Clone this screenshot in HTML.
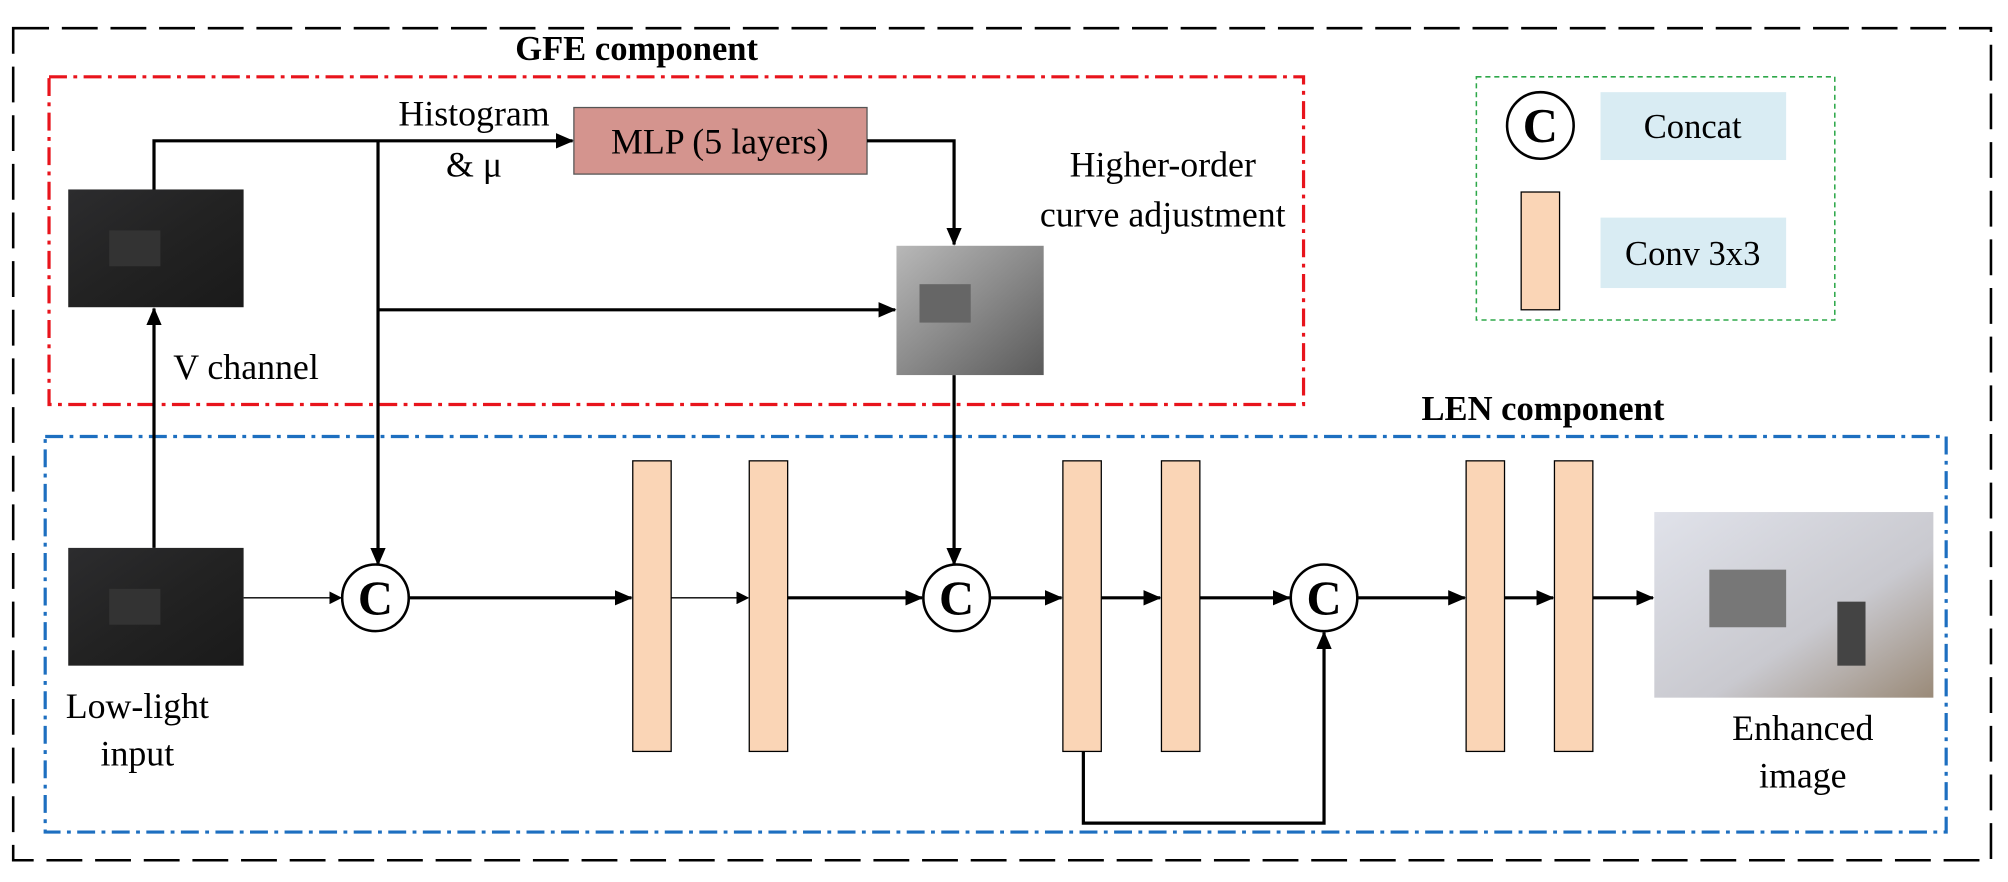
<!DOCTYPE html>
<html><head><meta charset="utf-8"><style>
html,body{margin:0;padding:0;background:#fff;width:2008px;height:882px;overflow:hidden}
svg{display:block}
text{font-family:"Liberation Serif",serif;fill:#000}
</style></head><body>
<svg width="2008" height="882" viewBox="0 0 1568 689" xmlns="http://www.w3.org/2000/svg">
<defs>
<marker id="ah" markerWidth="10" markerHeight="10" refX="9" refY="5" orient="auto" markerUnits="userSpaceOnUse">
<path d="M0,0 L10,5 L0,10 z" fill="#000"/></marker>
<marker id="ahl" markerWidth="14" markerHeight="14" refX="13" refY="7" orient="auto" markerUnits="userSpaceOnUse">
<path d="M0,1 L14,7 L0,13 z" fill="#000"/></marker>
<linearGradient id="dark" x1="0" y1="0" x2="1" y2="1"><stop offset="0" stop-color="#2c2c2e"/><stop offset="0.5" stop-color="#222"/><stop offset="1" stop-color="#1a1a1a"/></linearGradient>
<linearGradient id="grey" x1="0" y1="0" x2="1" y2="1"><stop offset="0" stop-color="#b8b8b8"/><stop offset="0.5" stop-color="#8a8a8a"/><stop offset="1" stop-color="#5a5a5a"/></linearGradient>
<linearGradient id="light" x1="0" y1="0" x2="1" y2="1"><stop offset="0" stop-color="#e0e2ea"/><stop offset="0.6" stop-color="#c9c9cf"/><stop offset="1" stop-color="#9a8a78"/></linearGradient>
</defs>
<rect x="10" y="22" width="1545" height="650" fill="none" stroke="#000" stroke-width="2" stroke-dasharray="28,10"/>
<rect x="38" y="60" width="980" height="256" fill="none" stroke="#e8141c" stroke-width="2.5" stroke-dasharray="14,5,3,5"/>
<rect x="35" y="341" width="1485" height="309" fill="none" stroke="#1d6fc0" stroke-width="2.5" stroke-dasharray="14,5,3,5"/>
<rect x="1153" y="60" width="280" height="190" fill="none" stroke="#2ea84a" stroke-width="1.2" stroke-dasharray="4,3"/>
<text x="497" y="47" font-size="27" font-weight="bold" text-anchor="middle">GFE component</text>
<text x="1205" y="328" font-size="27" font-weight="bold" text-anchor="middle">LEN component</text>
<!-- legend -->
<circle cx="1203" cy="98" r="26" fill="#fff" stroke="#000" stroke-width="2"/>
<text x="1203" y="111" font-size="38" font-weight="bold" text-anchor="middle">C</text>
<rect x="1250" y="72" width="145" height="53" fill="#d9ecf3"/>
<text x="1322" y="108" font-size="27" text-anchor="middle">Concat</text>
<rect x="1188" y="150" width="30" height="92" fill="#fad5b6" stroke="#000" stroke-width="1"/>
<rect x="1250" y="170" width="145" height="55" fill="#d9ecf3"/>
<text x="1322" y="207" font-size="27" text-anchor="middle">Conv 3x3</text>
<!-- images -->
<rect x="53" y="148" width="137" height="92" fill="url(#dark)"/>
<rect x="85" y="180" width="40" height="28" fill="#333"/>
<rect x="53" y="428" width="137" height="92" fill="url(#dark)"/>
<rect x="85" y="460" width="40" height="28" fill="#333"/>
<rect x="700" y="192" width="115" height="101" fill="url(#grey)"/>
<rect x="718" y="222" width="40" height="30" fill="#666"/>
<rect x="1292" y="400" width="218" height="145" fill="url(#light)"/>
<rect x="1335" y="445" width="60" height="45" fill="#777"/>
<rect x="1435" y="470" width="22" height="50" fill="#444"/>
<text x="107" y="561" font-size="28" text-anchor="middle">Low-light</text>
<text x="107" y="598" font-size="28" text-anchor="middle">input</text>
<text x="1408" y="578" font-size="28" text-anchor="middle">Enhanced</text>
<text x="1408" y="615" font-size="28" text-anchor="middle">image</text>
<text x="135" y="296" font-size="28">V channel</text>
<text x="370" y="98" font-size="28" text-anchor="middle">Histogram</text>
<text x="370" y="138" font-size="28" text-anchor="middle">&amp;  μ</text>
<text x="908" y="138" font-size="28" text-anchor="middle">Higher-order</text>
<text x="908" y="177" font-size="28" text-anchor="middle">curve adjustment</text>
<rect x="448" y="84" width="229" height="52" fill="#d4948e" stroke="#555" stroke-width="1"/>
<text x="562" y="120" font-size="28" text-anchor="middle">MLP (5 layers)</text>
<!-- GFE connectors -->
<g stroke="#000" stroke-width="2.5" fill="none">
<line x1="120" y1="428" x2="120" y2="241" marker-end="url(#ahl)"/>
<polyline points="120,148 120,110 447,110" marker-end="url(#ahl)"/>
<line x1="295" y1="110" x2="295" y2="441" marker-end="url(#ahl)"/>
<line x1="295" y1="242" x2="699" y2="242" marker-end="url(#ahl)"/>
<polyline points="677,110 745,110 745,191" marker-end="url(#ahl)"/>
<line x1="745" y1="293" x2="745" y2="441" marker-end="url(#ahl)"/>
</g>
<!-- bars -->
<g fill="#fad5b6" stroke="#000" stroke-width="1">
<rect x="494" y="360" width="30" height="227"/>
<rect x="585" y="360" width="30" height="227"/>
<rect x="830" y="360" width="30" height="227"/>
<rect x="907" y="360" width="30" height="227"/>
<rect x="1145" y="360" width="30" height="227"/>
<rect x="1214" y="360" width="30" height="227"/>
</g>
<!-- LEN connectors -->
<g stroke="#000" fill="none">
<line x1="190" y1="467" x2="266" y2="467" stroke-width="1" marker-end="url(#ah)"/>
<line x1="319" y1="467" x2="493" y2="467" stroke-width="2.5" marker-end="url(#ahl)"/>
<line x1="524" y1="467" x2="584" y2="467" stroke-width="1" marker-end="url(#ah)"/>
<line x1="615" y1="467" x2="720" y2="467" stroke-width="2.5" marker-end="url(#ahl)"/>
<line x1="773" y1="467" x2="829" y2="467" stroke-width="2.5" marker-end="url(#ahl)"/>
<line x1="860" y1="467" x2="906" y2="467" stroke-width="2.5" marker-end="url(#ahl)"/>
<line x1="937" y1="467" x2="1007" y2="467" stroke-width="2.5" marker-end="url(#ahl)"/>
<line x1="1060" y1="467" x2="1144" y2="467" stroke-width="2.5" marker-end="url(#ahl)"/>
<line x1="1175" y1="467" x2="1213" y2="467" stroke-width="2.5" marker-end="url(#ahl)"/>
<line x1="1244" y1="467" x2="1291" y2="467" stroke-width="2.5" marker-end="url(#ahl)"/>
<polyline points="846,587 846,643 1034,643 1034,494" stroke-width="2.5" marker-end="url(#ahl)"/>
</g>
<g>
<circle cx="293" cy="467" r="26" fill="#fff" stroke="#000" stroke-width="2"/>
<text x="293" y="480" font-size="38" font-weight="bold" text-anchor="middle">C</text>
<circle cx="747" cy="467" r="26" fill="#fff" stroke="#000" stroke-width="2"/>
<text x="747" y="480" font-size="38" font-weight="bold" text-anchor="middle">C</text>
<circle cx="1034" cy="467" r="26" fill="#fff" stroke="#000" stroke-width="2"/>
<text x="1034" y="480" font-size="38" font-weight="bold" text-anchor="middle">C</text>
</g>
</svg>
</body></html>
